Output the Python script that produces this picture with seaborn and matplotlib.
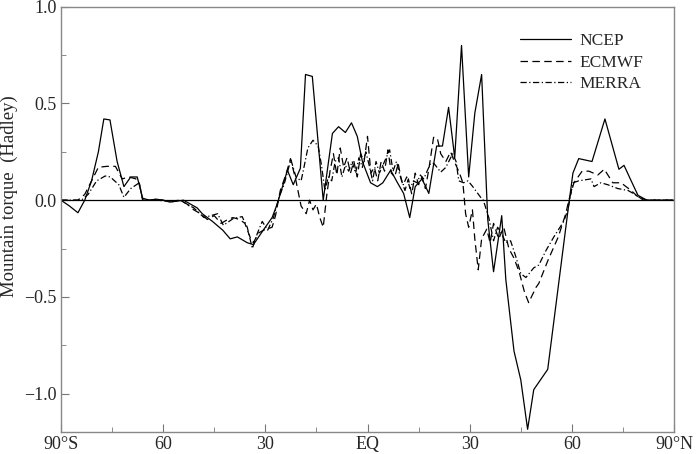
import numpy as np
import pandas as pd
import matplotlib
matplotlib.use("Agg")
import matplotlib.pyplot as plt
import seaborn as sns

# latitude (deg, negative = south) and mountain torque (Hadley)
ncep_lat = [-90, -87.5, -85, -83, -81, -79, -77.4, -75.6, -73.5, -71.5, -69.5, -67.6, -66, -64, -62,
            -60, -58, -56, -54, -52, -50, -48.5, -45.5, -42.5, -40.3, -38.2, -35.3, -33.5, -30.6,
            -28, -26.5, -23.5, -21.8, -19.7, -18.2, -16.2, -13, -10.3, -8.5, -6.5, -4.7, -3, -1.5,
            0.9, 2.9, 4.5, 6.8, 8.8, 10.6, 12.4, 14, 16, 18, 20.3, 22, 23.8, 25.6, 27.6, 29.7,
            31.5, 33.5, 35.3, 37, 39.4, 40.6, 43, 45, 47, 48.8, 52.9, 58.8, 60.3, 62, 65.9, 69.7,
            73.8, 75.3, 77.4, 79.4, 82, 90]
ncep_val = [0.0, -0.03, -0.065, 0.0, 0.1, 0.25, 0.42, 0.415, 0.2, 0.07, 0.12, 0.12, 0.01, 0.0, 0.005,
            0.0, -0.01, -0.005, 0.0, -0.02, -0.04, -0.07, -0.11, -0.155, -0.2, -0.19, -0.22, -0.23, -0.155,
            -0.09, -0.02, 0.155, 0.08, 0.165, 0.65, 0.64, 0.0, 0.345, 0.38, 0.35, 0.4, 0.33, 0.2,
            0.09, 0.07, 0.09, 0.155, 0.09, 0.035, -0.09, 0.07, 0.11, 0.035, 0.28, 0.28, 0.48, 0.22, 0.8, 0.12,
            0.45, 0.65, -0.1, -0.37, -0.08, -0.41, -0.78, -0.93, -1.185, -0.98, -0.875, -0.06, 0.14, 0.215, 0.2, 0.42,
            0.16, 0.18, 0.1, 0.025, 0.0, 0.0]

ecmwf_lat = [-90, -85, -83, -81, -79, -76.5, -74, -72, -70, -68, -67, -66, -64, -62, -60, -58, -55, -53,
             -51, -49, -47, -45, -43, -41, -39.5, -37.5, -36, -34.5, -33.5, -32, -30.5, -28, -27, -25.6,
             -24, -22.6, -21, -19.5, -18, -17, -16, -15, -14, -13, -12, -11, -10, -9, -8, -7, -6, -5,
             -4, -3, -2, -1, 0, 1, 2, 3, 4, 5, 6, 7, 8, 9, 10, 11, 12, 13, 14, 15, 16, 17, 18, 19.4,
             20.5, 21.5, 23, 24.4, 25.5, 27, 28, 28.8, 29.7, 30.8, 31.5, 32.5, 33.5, 35, 36, 37, 38.5,
             40, 41.5, 43, 44.5, 46, 47.3, 49.5, 50.3, 53, 56, 58.2, 59.1, 60.6, 63, 65, 67.6, 69.5, 72,
             74.4, 77.4, 79.5, 82, 90]
ecmwf_val = [0.0, 0.0, 0.03, 0.1, 0.17, 0.175, 0.175, 0.11, 0.12, 0.11, 0.09, 0.0, 0.0, 0.005, 0.0, -0.01, 0.0, -0.02,
             -0.05, -0.07, -0.1, -0.08, -0.12, -0.1, -0.09, -0.1, -0.12, -0.19, -0.22, -0.17, -0.155, -0.14, -0.08, 0.05,
             0.13, 0.215, 0.1, -0.03, -0.07, 0.0, -0.05, -0.02, -0.09, -0.14, 0.02, 0.15, 0.24, 0.13, 0.27, 0.17, 0.22, 0.14,
             0.2, 0.12, 0.24, 0.2, 0.33, 0.14, 0.17, 0.1, 0.2, 0.15, 0.26, 0.14, 0.12, 0.19, 0.1, 0.05, 0.11, 0.03, 0.14, 0.08, 0.12, 0.06, 0.16, 0.325,
             0.32, 0.24, 0.2, 0.25, 0.2, 0.14, 0.09, -0.07, -0.14, -0.05, -0.2, -0.36, -0.2, -0.15, -0.22, -0.12, -0.2,
             -0.14, -0.25, -0.3, -0.37, -0.47, -0.53, -0.45, -0.43, -0.31, -0.19, -0.07, 0.0, 0.09, 0.15, 0.15, 0.13, 0.16, 0.09,
             0.09, 0.05, 0.015, 0.0, 0.0]

merra_lat = [-90, -84, -82, -79.5, -77, -75.5, -73, -71.5, -69.5, -67, -66, -62, -58, -55, -52, -51, -48, -44,
             -42.3, -39.4, -36.8, -35.3, -33.8, -32.3, -30.9, -29.3, -27.6, -26, -24.5, -22.5, -21, -19.5,
             -19, -17.5, -16, -14.5, -13.5, -12.5, -11.5, -10.5, -9.5, -8.5, -7.5, -6.5, -5.5, -4.5, -3.5,
             -2.5, -1.5, -0.5, 0.5, 1.5, 2.5, 3.5, 4.5, 5.5, 6.5, 7.5, 8.5, 9.5, 10.5, 11.5, 12.5, 13.5,
             14.5, 15.5, 16.5, 17.5, 18.5, 19.5, 21.5, 23, 25, 26, 26.8, 28.2, 29.5, 30.9, 33.2, 34, 35.6,
             37, 38.2, 39.3, 40.6, 42, 43.5, 45, 46.5, 48.8, 50.3, 52.4, 54.7, 57.6, 58.8, 59.7, 60.3, 62,
             65.6, 66.5, 68.5, 70.5, 73.5, 76.5, 79, 81, 90]
merra_val = [0.0, 0.0, 0.03, 0.1, 0.125, 0.12, 0.08, 0.015, 0.06, 0.09, 0.0, 0.0, -0.005, 0.0, -0.03, -0.04, -0.09, -0.07,
             -0.13, -0.095, -0.085, -0.14, -0.25, -0.17, -0.11, -0.155, -0.09, 0.015, 0.08, 0.21, 0.12, 0.1,
             0.14, 0.27, 0.31, 0.28, 0.18, 0.05, 0.12, 0.1, 0.2, 0.22, 0.12, 0.18, 0.15, 0.2, 0.14,
             0.22, 0.17, 0.25, 0.18, 0.1, 0.2, 0.14, 0.18, 0.22, 0.26, 0.15, 0.2, 0.13, 0.08, 0.12, 0.06, 0.1,
             0.09, 0.13, 0.11, 0.15, 0.19, 0.19, 0.145, 0.17, 0.24, 0.2, 0.1, 0.09, 0.1, 0.07, 0.015, 0.0, -0.09,
             -0.21, -0.14, -0.17, -0.22, -0.21, -0.29, -0.38, -0.4, -0.35, -0.335, -0.26, -0.19, -0.11, -0.05, 0.035, 0.09, 0.1,
             0.11, 0.07, 0.09, 0.08, 0.06, 0.05, 0.025, 0.0, 0.0]

xticks = [-90, -60, -30, 0, 30, 60, 90]
xticklabels = ["90°S", "60", "30", "EQ", "30", "60", "90°N"]
yticks = [-1.0, -0.5, 0.0, 0.5, 1.0]

df = pd.concat([
    pd.DataFrame({"lat": ncep_lat, "torque": ncep_val, "dataset": "NCEP"}),
    pd.DataFrame({"lat": ecmwf_lat, "torque": ecmwf_val, "dataset": "ECMWF"}),
    pd.DataFrame({"lat": merra_lat, "torque": merra_val, "dataset": "MERRA"}),
], ignore_index=True)

sns.set_style("ticks")
plt.rcParams["font.family"] = ["Liberation Serif", "DejaVu Serif"]
plt.rcParams["font.size"] = 13

fig = plt.figure(figsize=(7, 4.54), dpi=100)
ax = fig.add_axes([0.087, 0.048, 0.876, 0.937])

sns.lineplot(data=df, x="lat", y="torque", style="dataset", color="black",
             dashes={"NCEP": "", "ECMWF": (6, 3.5), "MERRA": (5, 2, 1, 2)},
             estimator=None, linewidth=0.9, ax=ax)
ax.axhline(0, color="black", linewidth=0.9, zorder=1)

ax.set_xlim(-90, 90)
ax.set_ylim(-1.2, 1.0)
ax.set_xticks(xticks)
ax.set_xticklabels(xticklabels)
ax.set_xticks(np.arange(-75, 90, 30), minor=True)
ax.set_yticks(yticks)
ax.set_yticklabels(["−1.0", "−0.5", "0.0", "0.5", "1.0"])
ax.set_yticks([-0.75, -0.25, 0.25, 0.75], minor=True)
ax.tick_params(which="both", direction="in", color="#777777", labelsize=13, top=False, right=False)
ax.tick_params(which="major", length=6, pad=3)
ax.tick_params(which="minor", length=3.5)
ax.set_xlabel("")
ax.set_ylabel("Mountain torque  (Hadley)", fontsize=13.5)
ax.yaxis.set_label_coords(-0.07, 0.555)
for s in ax.spines.values():
    s.set_color("#888888")
    s.set_linewidth(1)

handles, labels = ax.get_legend_handles_labels()
ax.legend(handles, labels, loc="upper right", bbox_to_anchor=(0.975, 0.975), frameon=False,
          handlelength=2.9, handletextpad=0.5, labelspacing=0.3, fontsize=12.5)

fig.savefig("out.png", dpi=100)
